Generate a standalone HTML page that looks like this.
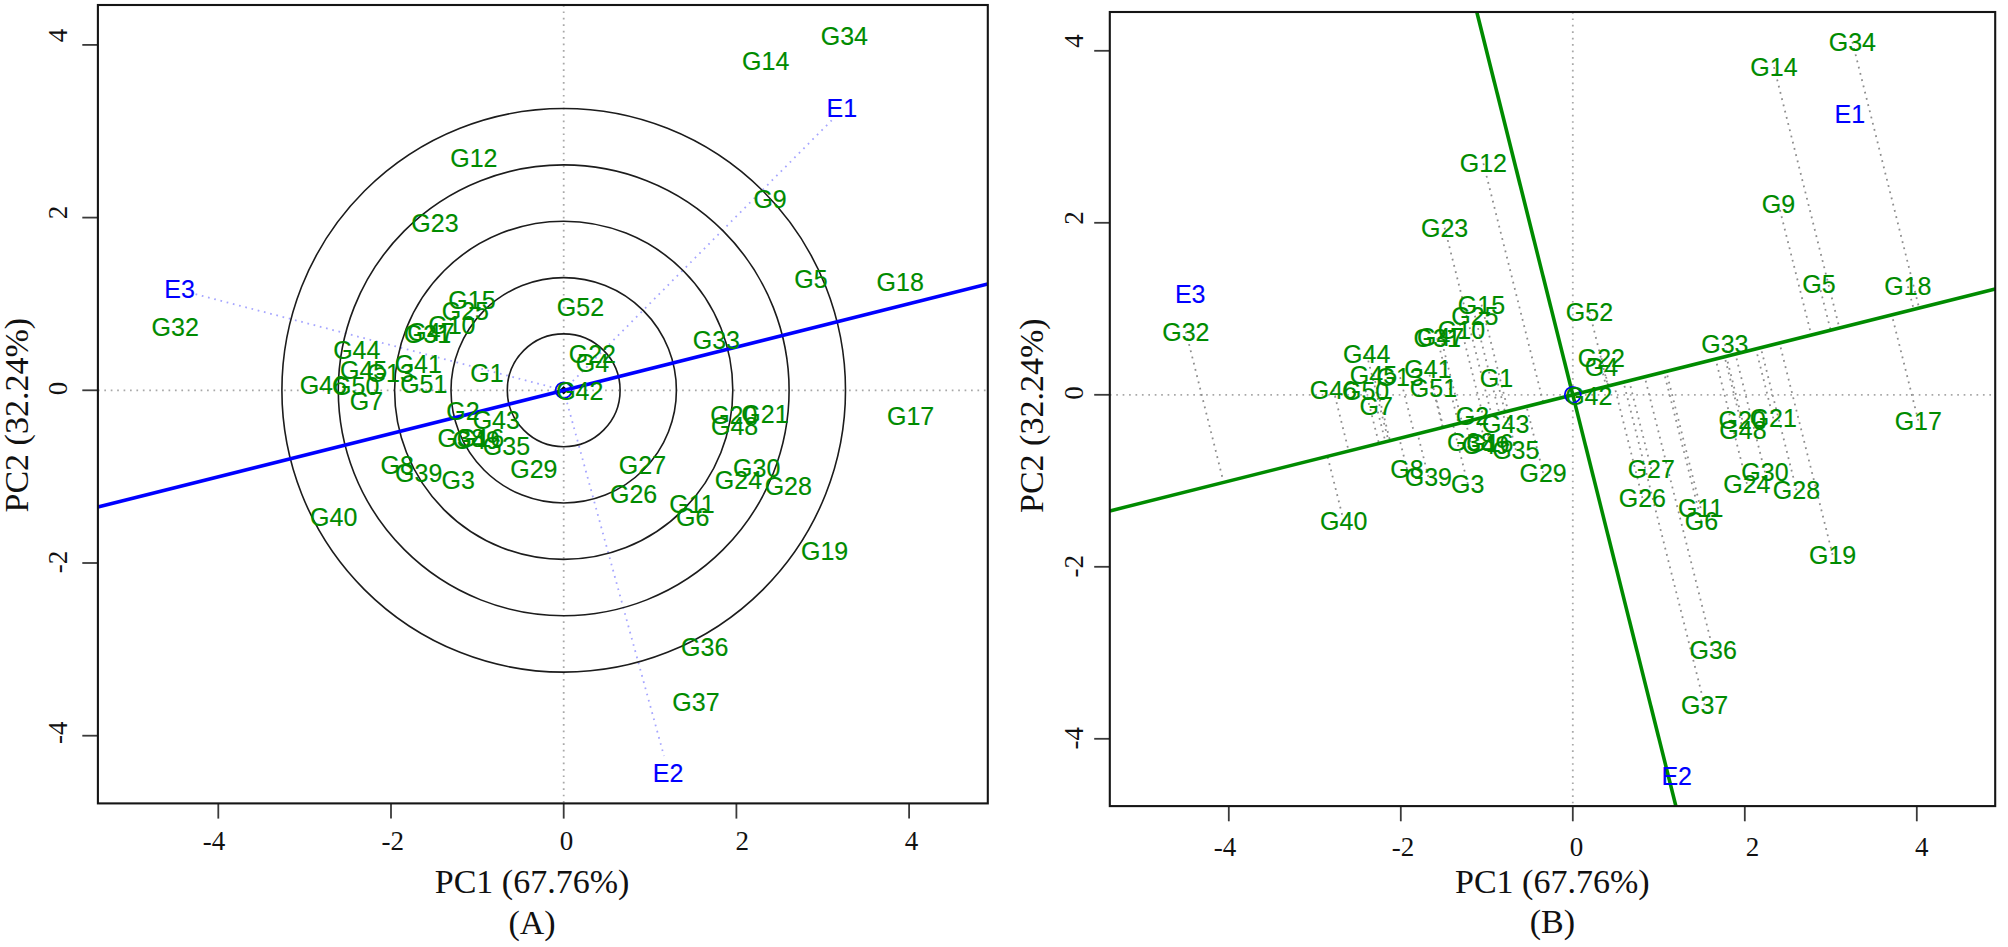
<!DOCTYPE html>
<html lang="en"><head><meta charset="utf-8"><title>GGE biplot</title>
<style>
html,body{margin:0;padding:0;background:#fff;}
svg{display:block;}
.g{font-family:"Liberation Sans",Arial,Helvetica,sans-serif;font-size:25px;fill:#008B00;stroke:#008B00;stroke-width:0.15px;text-anchor:middle;}
.e{font-family:"Liberation Sans",Arial,Helvetica,sans-serif;font-size:25px;fill:#0000FF;stroke:#0000FF;stroke-width:0.15px;text-anchor:middle;}
.t{font-family:"Liberation Serif","Times New Roman",serif;font-size:27px;fill:#111;text-anchor:middle;}
.a{font-family:"Liberation Serif","Times New Roman",serif;font-size:34px;fill:#111;text-anchor:middle;}
.bx{fill:none;stroke:#151515;stroke-width:2.1;}
.tk{stroke:#3a3a3a;stroke-width:1.8;fill:none;}
.dg{stroke:#a8a8a8;stroke-width:1.8;stroke-dasharray:1.7 4.72;fill:none;}
.db{stroke:#a6a6ff;stroke-width:1.8;stroke-dasharray:1.7 4.72;fill:none;}
.dp{stroke:#8e8e8e;stroke-width:1.8;stroke-dasharray:1.8 4.62;fill:none;}
.c{fill:none;stroke:#1c1c1c;stroke-width:1.6;}
</style></head><body>
<svg width="2008" height="947" viewBox="0 0 2008 947">
<rect x="0" y="0" width="2008" height="947" fill="#ffffff"/>
<defs><clipPath id="ca"><rect x="97.9" y="5" width="889.9" height="798.4"/></clipPath></defs>
<line class="tk" x1="218.3" y1="803.4" x2="218.3" y2="818.6"/>
<line class="tk" x1="97.9" y1="735.7" x2="82.3" y2="735.7"/>
<line class="tk" x1="391" y1="803.4" x2="391" y2="818.6"/>
<line class="tk" x1="97.9" y1="563" x2="82.3" y2="563"/>
<line class="tk" x1="563.7" y1="803.4" x2="563.7" y2="818.6"/>
<line class="tk" x1="97.9" y1="390.3" x2="82.3" y2="390.3"/>
<line class="tk" x1="736.4" y1="803.4" x2="736.4" y2="818.6"/>
<line class="tk" x1="97.9" y1="217.6" x2="82.3" y2="217.6"/>
<line class="tk" x1="909.1" y1="803.4" x2="909.1" y2="818.6"/>
<line class="tk" x1="97.9" y1="44.9" x2="82.3" y2="44.9"/>
<text class="t" x="214.1" y="850.3">-4</text>
<text class="t" x="392.7" y="850.3">-2</text>
<text class="t" x="566.6" y="850.3">0</text>
<text class="t" x="742.2" y="850.3">2</text>
<text class="t" x="911.5" y="850.3">4</text>
<text class="t" transform="translate(66.8 35.5) rotate(-90)">4</text>
<text class="t" transform="translate(66.8 212.5) rotate(-90)">2</text>
<text class="t" transform="translate(66.8 388.5) rotate(-90)">0</text>
<text class="t" transform="translate(66.8 562) rotate(-90)">-2</text>
<text class="t" transform="translate(66.8 732.8) rotate(-90)">-4</text>
<text class="a" transform="translate(27.5 415.2) rotate(-90)">PC2 (32.24%)</text>
<text class="a" x="532" y="893">PC1 (67.76%)</text>
<text class="a" x="532" y="933.5">(A)</text>
<g clip-path="url(#ca)">
<line class="dg" x1="97.9" y1="390.3" x2="987.8" y2="390.3"/>
<line class="dg" x1="563.7" y1="5" x2="563.7" y2="803.4"/>
<line class="db" x1="563.7" y1="390.3" x2="832" y2="120"/>
<line class="db" x1="563.7" y1="390.3" x2="664" y2="756"/>
<line class="db" x1="563.7" y1="390.3" x2="195" y2="294"/>
<circle class="c" cx="563.7" cy="390.3" r="56.4"/>
<circle class="c" cx="563.7" cy="390.3" r="112.7"/>
<circle class="c" cx="563.7" cy="390.3" r="169.1"/>
<circle class="c" cx="563.7" cy="390.3" r="225.4"/>
<circle class="c" cx="563.7" cy="390.3" r="281.8"/>
<path d="M559.4 390.3 L563.7 386 L568 390.3 L563.7 394.6Z" fill="#000"/>
<line x1="97.9" y1="507.1" x2="987.8" y2="284" stroke="#0000FF" stroke-width="3.6"/>
<circle cx="563.7" cy="390.3" r="8" fill="none" stroke="#0000FF" stroke-width="1.8"/>
</g>
<text class="g" x="487" y="382">G1</text>
<text class="g" x="463" y="420.2">G2</text>
<text class="g" x="458.3" y="488.8">G3</text>
<text class="g" x="592.4" y="371.7">G4</text>
<text class="g" x="810.9" y="288">G5</text>
<text class="g" x="692.8" y="526.4">G6</text>
<text class="g" x="366.4" y="410">G7</text>
<text class="g" x="397.2" y="473.7">G8</text>
<text class="g" x="770.1" y="207.5">G9</text>
<text class="g" x="451.9" y="334">G10</text>
<text class="g" x="692" y="513">G11</text>
<text class="g" x="473.9" y="167">G12</text>
<text class="g" x="390.3" y="381.6">G13</text>
<text class="g" x="765.7" y="70.3">G14</text>
<text class="g" x="472" y="308.8">G15</text>
<text class="g" x="480.5" y="447.2">G16</text>
<text class="g" x="910.6" y="425.2">G17</text>
<text class="g" x="900.2" y="290.5">G18</text>
<text class="g" x="824.6" y="560">G19</text>
<text class="g" x="733.8" y="424.2">G20</text>
<text class="g" x="765" y="423">G21</text>
<text class="g" x="592.4" y="362.6">G22</text>
<text class="g" x="435" y="231.5">G23</text>
<text class="g" x="738.5" y="488.7">G24</text>
<text class="g" x="465.4" y="319.9">G25</text>
<text class="g" x="633.6" y="502.9">G26</text>
<text class="g" x="642.5" y="473.8">G27</text>
<text class="g" x="788.3" y="495">G28</text>
<text class="g" x="533.9" y="477.7">G29</text>
<text class="g" x="756.7" y="477.2">G30</text>
<text class="g" x="427.5" y="342.5">G31</text>
<text class="g" x="175.2" y="335.9">G32</text>
<text class="g" x="716.4" y="348.6">G33</text>
<text class="g" x="844.4" y="45">G34</text>
<text class="g" x="506.5" y="454.7">G35</text>
<text class="g" x="704.7" y="655.8">G36</text>
<text class="g" x="696" y="711">G37</text>
<text class="g" x="461.2" y="446.8">G38</text>
<text class="g" x="418.7" y="481.6">G39</text>
<text class="g" x="333.7" y="526">G40</text>
<text class="g" x="418.3" y="373">G41</text>
<text class="g" x="579.8" y="400.2">G42</text>
<text class="g" x="496.3" y="428.6">G43</text>
<text class="g" x="356.8" y="358.7">G44</text>
<text class="g" x="363.6" y="379.3">G45</text>
<text class="g" x="323.3" y="394.3">G46</text>
<text class="g" x="431" y="341">G47</text>
<text class="g" x="734.6" y="434.9">G48</text>
<text class="g" x="476.2" y="449.4">G49</text>
<text class="g" x="355.7" y="395">G50</text>
<text class="g" x="423.8" y="392.7">G51</text>
<text class="g" x="580.5" y="316.3">G52</text>
<text class="e" x="841.9" y="117.1">E1</text>
<text class="e" x="668" y="782">E2</text>
<text class="e" x="179.5" y="298.4">E3</text>
<rect class="bx" x="97.9" y="5" width="889.9" height="798.4"/>
<defs><clipPath id="cb"><rect x="1109.8" y="12" width="885.4" height="794.1"/></clipPath></defs>
<line class="tk" x1="1228.8" y1="806.1" x2="1228.8" y2="821.3"/>
<line class="tk" x1="1109.8" y1="738.8" x2="1094.2" y2="738.8"/>
<line class="tk" x1="1400.8" y1="806.1" x2="1400.8" y2="821.3"/>
<line class="tk" x1="1109.8" y1="566.8" x2="1094.2" y2="566.8"/>
<line class="tk" x1="1572.8" y1="806.1" x2="1572.8" y2="821.3"/>
<line class="tk" x1="1109.8" y1="394.8" x2="1094.2" y2="394.8"/>
<line class="tk" x1="1744.8" y1="806.1" x2="1744.8" y2="821.3"/>
<line class="tk" x1="1109.8" y1="222.8" x2="1094.2" y2="222.8"/>
<line class="tk" x1="1916.8" y1="806.1" x2="1916.8" y2="821.3"/>
<line class="tk" x1="1109.8" y1="50.8" x2="1094.2" y2="50.8"/>
<text class="t" x="1224.9" y="855.5">-4</text>
<text class="t" x="1403" y="855.5">-2</text>
<text class="t" x="1576.5" y="855.5">0</text>
<text class="t" x="1752.4" y="855.5">2</text>
<text class="t" x="1921.7" y="855.5">4</text>
<text class="t" transform="translate(1082.8 41) rotate(-90)">4</text>
<text class="t" transform="translate(1082.8 218) rotate(-90)">2</text>
<text class="t" transform="translate(1082.8 392.9) rotate(-90)">0</text>
<text class="t" transform="translate(1082.8 566.2) rotate(-90)">-2</text>
<text class="t" transform="translate(1082.8 738.2) rotate(-90)">-4</text>
<text class="a" transform="translate(1042.8 415.7) rotate(-90)">PC2 (32.24%)</text>
<text class="a" x="1552.3" y="892.6">PC1 (67.76%)</text>
<text class="a" x="1552.3" y="933">(B)</text>
<g clip-path="url(#cb)">
<line class="dg" x1="1109.8" y1="394.8" x2="1995.2" y2="394.8"/>
<line class="dg" x1="1572.8" y1="12" x2="1572.8" y2="806.1"/>
<line class="dp" x1="1496.4" y1="377.6" x2="1505" y2="411.8"/>
<line class="dp" x1="1472.5" y1="415.6" x2="1473.5" y2="419.7"/>
<line class="dp" x1="1467.8" y1="483.9" x2="1453" y2="424.8"/>
<line class="dp" x1="1601.4" y1="367.3" x2="1606.2" y2="386.4"/>
<line class="dp" x1="1819" y1="284" x2="1830.6" y2="330.2"/>
<line class="dp" x1="1701.4" y1="521.4" x2="1663.9" y2="372"/>
<line class="dp" x1="1376.3" y1="405.5" x2="1385.4" y2="441.8"/>
<line class="dp" x1="1407" y1="468.9" x2="1399.3" y2="438.3"/>
<line class="dp" x1="1778.4" y1="203.8" x2="1811.3" y2="335"/>
<line class="dp" x1="1461.5" y1="329.8" x2="1483.4" y2="417.2"/>
<line class="dp" x1="1700.6" y1="508" x2="1666.3" y2="371.4"/>
<line class="dp" x1="1483.4" y1="163.4" x2="1543.2" y2="402.2"/>
<line class="dp" x1="1400.1" y1="377.2" x2="1414.5" y2="434.5"/>
<line class="dp" x1="1774" y1="67.1" x2="1839.4" y2="328"/>
<line class="dp" x1="1481.5" y1="304.7" x2="1508.1" y2="411"/>
<line class="dp" x1="1489.9" y1="442.5" x2="1483.6" y2="417.2"/>
<line class="dp" x1="1918.3" y1="420.6" x2="1891.8" y2="314.8"/>
<line class="dp" x1="1907.9" y1="286.4" x2="1913.7" y2="309.3"/>
<line class="dp" x1="1832.6" y1="554.8" x2="1779.5" y2="343"/>
<line class="dp" x1="1742.2" y1="419.6" x2="1726.3" y2="356.3"/>
<line class="dp" x1="1773.3" y1="418.4" x2="1755.9" y2="348.9"/>
<line class="dp" x1="1601.4" y1="358.2" x2="1608.3" y2="385.9"/>
<line class="dp" x1="1444.6" y1="227.7" x2="1491.6" y2="415.2"/>
<line class="dp" x1="1746.9" y1="483.8" x2="1715.6" y2="359"/>
<line class="dp" x1="1474.9" y1="315.7" x2="1499.3" y2="413.2"/>
<line class="dp" x1="1642.4" y1="498" x2="1614" y2="384.5"/>
<line class="dp" x1="1651.3" y1="469" x2="1629.1" y2="380.7"/>
<line class="dp" x1="1796.5" y1="490.1" x2="1760.8" y2="347.7"/>
<line class="dp" x1="1543.1" y1="472.9" x2="1526.5" y2="406.4"/>
<line class="dp" x1="1765" y1="472.4" x2="1735.4" y2="354"/>
<line class="dp" x1="1437.2" y1="338.2" x2="1458.5" y2="423.5"/>
<line class="dp" x1="1185.9" y1="331.7" x2="1223.6" y2="482.3"/>
<line class="dp" x1="1724.9" y1="344.3" x2="1727.8" y2="355.9"/>
<line class="dp" x1="1852.4" y1="41.9" x2="1919.1" y2="308"/>
<line class="dp" x1="1515.8" y1="450" x2="1506.2" y2="411.5"/>
<line class="dp" x1="1713.2" y1="650.3" x2="1644.7" y2="376.8"/>
<line class="dp" x1="1704.6" y1="705.2" x2="1623.5" y2="382.1"/>
<line class="dp" x1="1470.7" y1="442.1" x2="1465.6" y2="421.7"/>
<line class="dp" x1="1428.4" y1="476.8" x2="1417.6" y2="433.7"/>
<line class="dp" x1="1343.7" y1="521" x2="1327.5" y2="456.3"/>
<line class="dp" x1="1428" y1="368.6" x2="1442.7" y2="427.4"/>
<line class="dp" x1="1588.8" y1="395.7" x2="1587.7" y2="391.1"/>
<line class="dp" x1="1505.7" y1="424" x2="1502.8" y2="412.4"/>
<line class="dp" x1="1366.7" y1="354.4" x2="1388.5" y2="441"/>
<line class="dp" x1="1373.5" y1="374.9" x2="1390" y2="440.6"/>
<line class="dp" x1="1333.4" y1="389.8" x2="1348.7" y2="451"/>
<line class="dp" x1="1440.6" y1="336.7" x2="1462.1" y2="422.5"/>
<line class="dp" x1="1743" y1="430.3" x2="1724.6" y2="356.7"/>
<line class="dp" x1="1485.7" y1="444.7" x2="1479" y2="418.3"/>
<line class="dp" x1="1365.6" y1="390.5" x2="1378.9" y2="443.4"/>
<line class="dp" x1="1433.5" y1="388.2" x2="1443.3" y2="427.3"/>
<line class="dp" x1="1589.5" y1="312.1" x2="1608" y2="386"/>
<line x1="1109.8" y1="510.9" x2="1995.2" y2="288.9" stroke="#008B00" stroke-width="3.6"/>
<line x1="1476.8" y1="12" x2="1675.9" y2="806.1" stroke="#008B00" stroke-width="3.6"/>
<circle cx="1572.8" cy="394.8" r="8" fill="none" stroke="#0000FF" stroke-width="1.8"/>
</g>
<text class="g" x="1496.4" y="386.6">G1</text>
<text class="g" x="1472.5" y="424.6">G2</text>
<text class="g" x="1467.8" y="492.9">G3</text>
<text class="g" x="1601.4" y="376.3">G4</text>
<text class="g" x="1819" y="293">G5</text>
<text class="g" x="1701.4" y="530.4">G6</text>
<text class="g" x="1376.3" y="414.5">G7</text>
<text class="g" x="1407" y="477.9">G8</text>
<text class="g" x="1778.4" y="212.8">G9</text>
<text class="g" x="1461.5" y="338.8">G10</text>
<text class="g" x="1700.6" y="517">G11</text>
<text class="g" x="1483.4" y="172.4">G12</text>
<text class="g" x="1400.1" y="386.2">G13</text>
<text class="g" x="1774" y="76.1">G14</text>
<text class="g" x="1481.5" y="313.7">G15</text>
<text class="g" x="1489.9" y="451.5">G16</text>
<text class="g" x="1918.3" y="429.6">G17</text>
<text class="g" x="1907.9" y="295.4">G18</text>
<text class="g" x="1832.6" y="563.8">G19</text>
<text class="g" x="1742.2" y="428.6">G20</text>
<text class="g" x="1773.3" y="427.4">G21</text>
<text class="g" x="1601.4" y="367.2">G22</text>
<text class="g" x="1444.6" y="236.7">G23</text>
<text class="g" x="1746.9" y="492.8">G24</text>
<text class="g" x="1474.9" y="324.7">G25</text>
<text class="g" x="1642.4" y="507">G26</text>
<text class="g" x="1651.3" y="478">G27</text>
<text class="g" x="1796.5" y="499.1">G28</text>
<text class="g" x="1543.1" y="481.9">G29</text>
<text class="g" x="1765" y="481.4">G30</text>
<text class="g" x="1437.2" y="347.2">G31</text>
<text class="g" x="1185.9" y="340.7">G32</text>
<text class="g" x="1724.9" y="353.3">G33</text>
<text class="g" x="1852.4" y="50.9">G34</text>
<text class="g" x="1515.8" y="459">G35</text>
<text class="g" x="1713.2" y="659.3">G36</text>
<text class="g" x="1704.6" y="714.2">G37</text>
<text class="g" x="1470.7" y="451.1">G38</text>
<text class="g" x="1428.4" y="485.8">G39</text>
<text class="g" x="1343.7" y="530">G40</text>
<text class="g" x="1428" y="377.6">G41</text>
<text class="g" x="1588.8" y="404.7">G42</text>
<text class="g" x="1505.7" y="433">G43</text>
<text class="g" x="1366.7" y="363.4">G44</text>
<text class="g" x="1373.5" y="383.9">G45</text>
<text class="g" x="1333.4" y="398.8">G46</text>
<text class="g" x="1440.6" y="345.7">G47</text>
<text class="g" x="1743" y="439.3">G48</text>
<text class="g" x="1485.7" y="453.7">G49</text>
<text class="g" x="1365.6" y="399.5">G50</text>
<text class="g" x="1433.5" y="397.2">G51</text>
<text class="g" x="1589.5" y="321.1">G52</text>
<text class="e" x="1849.9" y="122.7">E1</text>
<text class="e" x="1676.7" y="784.9">E2</text>
<text class="e" x="1190.2" y="303.3">E3</text>
<rect class="bx" x="1109.8" y="12" width="885.4" height="794.1"/>
</svg></body></html>
